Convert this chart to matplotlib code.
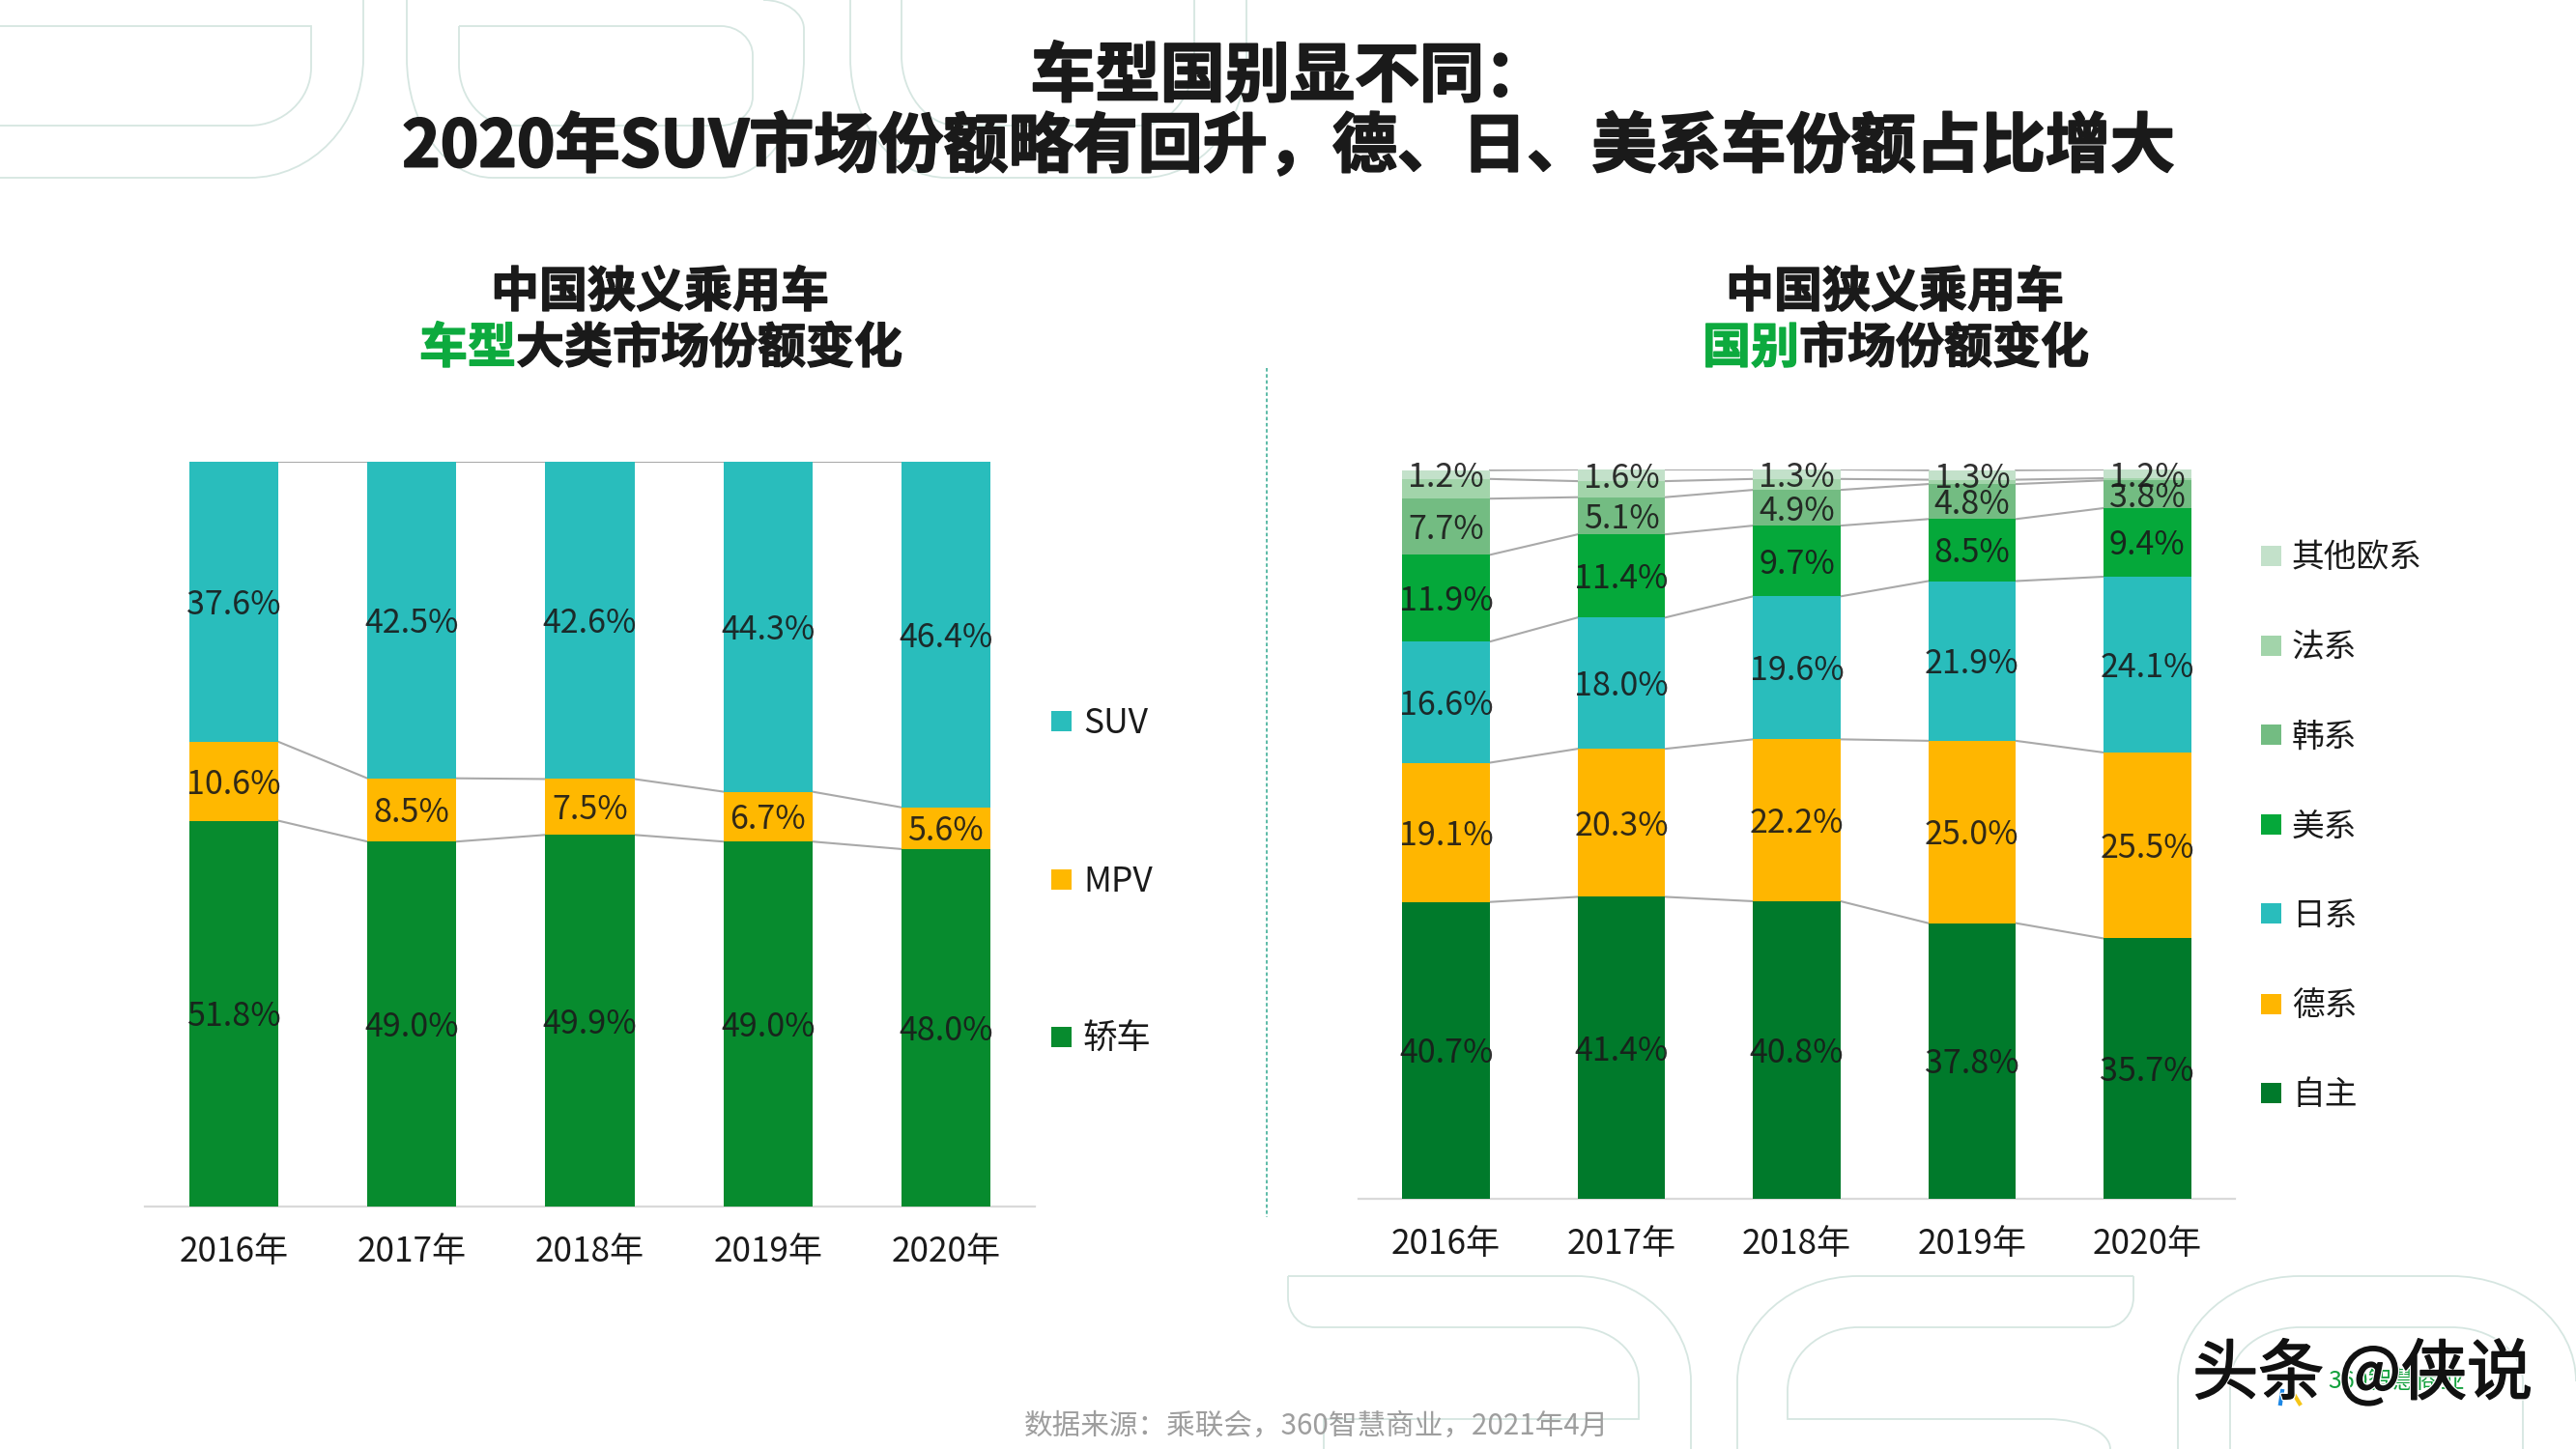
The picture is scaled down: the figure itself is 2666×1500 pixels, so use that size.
import matplotlib
matplotlib.use("Agg")
import matplotlib.pyplot as plt
import matplotlib.patheffects as pe
from matplotlib.path import Path
from matplotlib.patches import PathPatch, Rectangle
import numpy as np

plt.rcParams['font.family'] = ['Noto Sans CJK SC', 'DejaVu Sans']

W, H = 2666, 1500
TEXT = '#1a1a1a'

years = ['2016年', '2017年', '2018年', '2019年', '2020年']

# left chart, bottom to top
left_names = ['轿车', 'MPV', 'SUV']
sedan = [51.8, 49.0, 49.9, 49.0, 48.0]
mpv = [10.6, 8.5, 7.5, 6.7, 5.6]
suv = [37.6, 42.5, 42.6, 44.3, 46.4]
left_colors = ['#078B2E', '#FFB800', '#29BDBC']

# right chart, bottom to top. France has no printed labels
right_names = ['自主', '德系', '日系', '美系', '韩系', '法系', '其他欧系']
own = [40.7, 41.4, 40.8, 37.8, 35.7]
german = [19.1, 20.3, 22.2, 25.0, 25.5]
japanese = [16.6, 18.0, 19.6, 21.9, 24.1]
american = [11.9, 11.4, 9.7, 8.5, 9.4]
korean = [7.7, 5.1, 4.9, 4.8, 3.8]
french = [2.7, 2.2, 1.5, 0.6, 0.3]
other_eu = [1.2, 1.6, 1.3, 1.3, 1.2]
right_colors = ['#007A2B', '#FFB600', '#29BDBC', '#05A83A', '#73BC82', '#A2D4AA', '#C3E1CA']


def px_axes(fig, left, top, right, bottom, **kw):
    return fig.add_axes([left / W, 1 - bottom / H, (right - left) / W, (bottom - top) / H], **kw)


def outline(ax, pts):
    # pts: points in pixels, ('c', corner, end) makes a rounded bend
    verts, codes = [pts[0]], [Path.MOVETO]
    for p in pts[1:]:
        if p[0] == 'c':
            a = np.array(verts[-1], float)
            c = np.array(p[1], float)
            b = np.array(p[2], float)
            verts += [tuple(a + 0.55 * (c - a)), tuple(b + 0.55 * (c - b)), tuple(b)]
            codes += [Path.CURVE4] * 3
        else:
            verts.append(p)
            codes.append(Path.LINETO)
    ax.add_patch(PathPatch(Path(verts, codes), fill=False, ec='#D6E6E1', lw=1.3, zorder=1))


def stacked(ax, series, colors, skip=()):
    x = np.arange(len(years))
    bottom = np.zeros(len(years))
    for i, (vals, col) in enumerate(zip(series, colors)):
        vals = np.array(vals)
        ax.bar(x, vals, 0.5, bottom=bottom, color=col, zorder=3)
        top = bottom + vals
        for j in range(len(x) - 1):
            ax.plot([x[j] + 0.25, x[j + 1] - 0.25], [top[j], top[j + 1]], color='#A9A9A9', lw=1.5, zorder=2)
        if i not in skip:
            for j in range(len(x)):
                ax.annotate(f'{vals[j]:.1f}%', (x[j], bottom[j] + vals[j] / 2), xytext=(0, -2.5),
                            textcoords='offset points', ha='center', va='center',
                            fontsize=24.5, color=TEXT, alpha=0.9, zorder=4)
        bottom = top
    ax.set_xlim(-0.5, 4.5)
    ax.set_ylim(0, 100)
    ax.set_xticks(x)
    ax.set_xticklabels(years, fontsize=25.3, color=TEXT)
    ax.tick_params(axis='x', length=0, pad=21)
    ax.set_yticks([])
    for s in ['top', 'left', 'right']:
        ax.spines[s].set_visible(False)
    ax.spines['bottom'].set_color('#D9D9D9')
    ax.spines['bottom'].set_linewidth(1.6)
    ax.patch.set_alpha(0)


fig = plt.figure(figsize=(W / 100, H / 100), dpi=100, facecolor='white')

# full slide layer in pixel coordinates, for background and texts
bg = fig.add_axes([0, 0, 1, 1])
bg.set_xlim(0, W)
bg.set_ylim(H, 0)
bg.axis('off')

# big 360 outlines behind the slide
outline(bg, [(0, 184), (258, 184), ('c', (376, 184), (376, 60)), (376, 0)])
outline(bg, [(0, 27), (322, 27), (322, 70), ('c', (322, 130), (258, 130)), (0, 130)])
outline(bg, [(421, 0), (421, 60), ('c', (421, 184), (510, 184)), (746, 184),
             ('c', (832, 184), (832, 60)), (832, 30), ('c', (832, 0), (790, 0))])
outline(bg, [(475, 27), (746, 27), ('c', (779, 27), (779, 57)), (779, 100),
             ('c', (779, 130), (746, 130)), (529, 130), ('c', (475, 130), (475, 67)), (475, 27)])
outline(bg, [(880, 0), (880, 60), ('c', (880, 184), (980, 184)), (1183, 184),
             ('c', (1290, 184), (1290, 60)), (1290, 0)])
outline(bg, [(933, 0), (933, 57), ('c', (933, 130), (991, 130)), (1180, 130),
             ('c', (1236, 130), (1236, 60)), (1236, 0)])
outline(bg, [(1333, 1321), (1631, 1321), ('c', (1750, 1321), (1750, 1430)), (1750, 1500)])
outline(bg, [(1333, 1321), (1333, 1343), ('c', (1333, 1374), (1361, 1374)), (1631, 1374),
             ('c', (1696, 1374), (1696, 1430)), (1696, 1469), (1370, 1469), (1370, 1500)])
outline(bg, [(2208, 1321), (1923, 1321), ('c', (1798, 1321), (1798, 1430)), (1798, 1500)])
outline(bg, [(2208, 1321), (2208, 1343), ('c', (2208, 1374), (2180, 1374)), (1923, 1374),
             ('c', (1850, 1374), (1850, 1440)), (1850, 1469), (2119, 1469), ('c', (2184, 1469), (2184, 1500))])
outline(bg, [(2254, 1500), (2254, 1430), ('c', (2254, 1321), (2380, 1321)), (2537, 1321),
             ('c', (2666, 1321), (2666, 1430))])
outline(bg, [(2308, 1500), (2308, 1430), ('c', (2308, 1374), (2380, 1374)), (2537, 1374),
             ('c', (2611, 1374), (2611, 1430)), (2611, 1500)])

# titles, a thin stroke makes the bold as heavy as the original font
heavy = [pe.withStroke(linewidth=1.4, foreground=TEXT)]
bg.text(1335, 80, '车型国别显不同：', ha='center', va='center', fontsize=48.3, fontweight='bold', color=TEXT,
        path_effects=heavy)
bg.text(1334, 153, '2020年SUV市场份额略有回升，德、日、美系车份额占比增大', ha='center', va='center',
        fontsize=48.3, fontweight='bold', color=TEXT, path_effects=heavy)

GREEN = '#0DAA3E'
heavy_sub = [pe.withStroke(linewidth=1.0, foreground=TEXT)]
heavy_green = [pe.withStroke(linewidth=1.0, foreground=GREEN)]
bg.text(683, 303, '中国狭义乘用车', ha='center', va='center', fontsize=36, fontweight='bold', color=TEXT,
        path_effects=heavy_sub)
bg.text(534, 361, '车型', ha='right', va='center', fontsize=36, fontweight='bold', color=GREEN,
        path_effects=heavy_green)
bg.text(534, 361, '大类市场份额变化', ha='left', va='center', fontsize=36, fontweight='bold', color=TEXT,
        path_effects=heavy_sub)
bg.text(1961, 303, '中国狭义乘用车', ha='center', va='center', fontsize=36, fontweight='bold', color=TEXT,
        path_effects=heavy_sub)
bg.text(1862, 361, '国别', ha='right', va='center', fontsize=36, fontweight='bold', color=GREEN,
        path_effects=heavy_green)
bg.text(1862, 361, '市场份额变化', ha='left', va='center', fontsize=36, fontweight='bold', color=TEXT,
        path_effects=heavy_sub)

# dashed divider
bg.plot([1311, 1311], [381, 1260], color='#4FB5A0', lw=1.3, ls=(0, (2, 1.5)), zorder=2)

# charts
ax1 = px_axes(fig, 150, 478, 1071, 1249)
stacked(ax1, [sedan, mpv, suv], left_colors)
ax2 = px_axes(fig, 1406, 486, 2313, 1241)
stacked(ax2, [own, german, japanese, american, korean, french, other_eu], right_colors, skip=(5,))

# legends, top entry is the top of the stack
left_y = [1073, 910, 746]
for name, col, y in zip(left_names, left_colors, left_y):
    bg.add_patch(Rectangle((1088, y - 10.5), 21, 21, fc=col, ec='none', zorder=2))
    bg.text(1121, y + 3, name, ha='left', va='center', fontsize=25.5, color=TEXT)
right_y = [1131, 1039, 945, 853, 760, 668, 575]
for name, col, y in zip(right_names, right_colors, right_y):
    bg.add_patch(Rectangle((2340, y - 10.5), 21, 21, fc=col, ec='none', zorder=2))
    bg.text(2372, y + 3, name, ha='left', va='center', fontsize=24.3, color=TEXT)

# source and watermark
bg.text(1362, 1476, '数据来源：乘联会，360智慧商业，2021年4月', ha='center', va='center', fontsize=21.3, color='#9E9E9E')
bg.plot([2362, 2360], [1440, 1453], color='#1E88E5', lw=3, zorder=3)
bg.plot([2372, 2380], [1440, 1453], color='#F5C518', lw=3, zorder=3)
bg.text(2480, 1430, '360智慧商业', ha='center', va='center', fontsize=18, color='#12A03C', zorder=3)
bg.text(2445, 1424, '头条 @侠说', ha='center', va='center', fontsize=49, color='#111111', zorder=5,
        path_effects=[pe.withStroke(linewidth=3, foreground='white'),
                      pe.withStroke(linewidth=1.2, foreground='#111111')])

fig.savefig('out.png', dpi=100)
